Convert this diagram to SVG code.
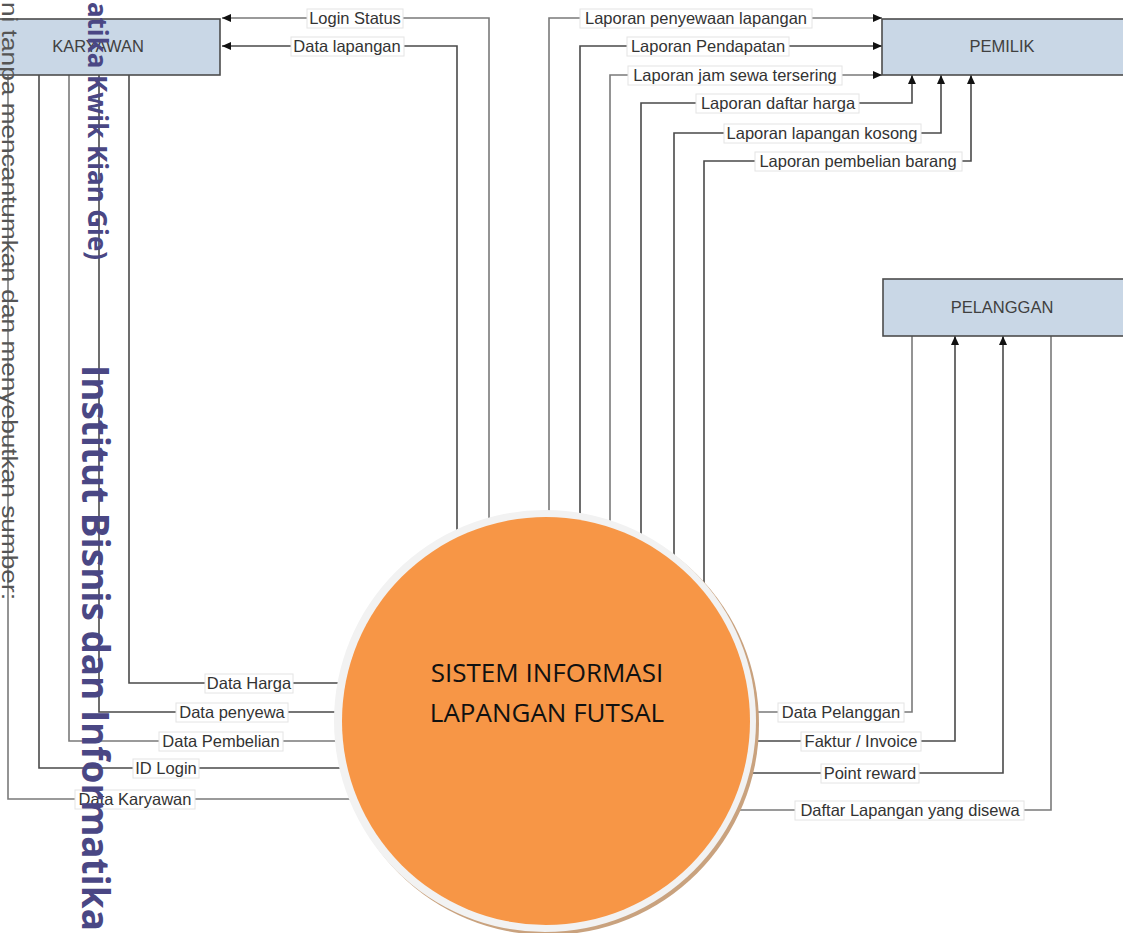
<svg xmlns="http://www.w3.org/2000/svg" width="1123" height="933" viewBox="0 0 1123 933">
<defs>
<marker id="arr" markerWidth="10" markerHeight="8" refX="9" refY="4" orient="auto" markerUnits="userSpaceOnUse">
<path d="M0,0 L9,4 L0,8 z" fill="#111"/>
</marker>
<style>
.box{fill:#c9d7e6;stroke:#4d4d4d;stroke-width:1.6}
.bt{font-family:"Liberation Sans",Arial,sans-serif;font-size:16.5px;fill:#404040;text-anchor:middle}
.ln{fill:none;stroke:#4a4a4a;stroke-width:1.6}
.lg{fill:none;stroke:#7a7a7a;stroke-width:1.6}
.lb{fill:#fff;stroke:#e4e4e4;stroke-width:1}
.lt{font-family:"Liberation Sans",Arial,sans-serif;font-size:16.5px;fill:#333;text-anchor:middle}
.ct{font-family:"Open Sans","Liberation Sans",sans-serif;font-size:26px;fill:#111;text-anchor:middle}
.wm{font-family:"Open Sans","Liberation Sans",sans-serif;font-weight:bold;fill:#4a4784}
.wt{font-family:"Liberation Sans",Arial,sans-serif;fill:#555}
</style>
</defs>
<rect width="1123" height="933" fill="#fff"/>

<g id="connectors">
<polyline class="lg" points="489,600 489,18 222,18" marker-end="url(#arr)"/>
<polyline class="ln" points="457,600 457,46 222,46" marker-end="url(#arr)"/>
<polyline class="lg" points="549,600 549,18 882,18" marker-end="url(#arr)"/>
<polyline class="ln" points="580,600 580,46 882,46" marker-end="url(#arr)"/>
<polyline class="lg" points="610,600 610,75 882,75" marker-end="url(#arr)"/>
<polyline class="ln" points="641,600 641,103 912,103 912,75" marker-end="url(#arr)"/>
<polyline class="ln" points="674,600 674,133 941,133 941,75" marker-end="url(#arr)"/>
<polyline class="ln" points="704,600 704,161 971,161 971,75" marker-end="url(#arr)"/>
<polyline class="ln" points="129,75 129,683 450,683"/>
<polyline class="ln" points="99,75 99,712 450,712"/>
<polyline class="lg" points="69,75 69,741 450,741"/>
<polyline class="ln" points="39,75 39,768 450,768"/>
<polyline class="lg" points="8,75 8,799 450,799"/>
<polyline class="lg" points="912,336 912,712 650,712"/>
<polyline class="ln" points="650,741 955,741 955,336" marker-end="url(#arr)"/>
<polyline class="ln" points="650,773 1003,773 1003,336" marker-end="url(#arr)"/>
<polyline class="lg" points="1051,336 1051,810 650,810"/>

<rect class="lb" x="307" y="9" width="96" height="19"/><text class="lt" x="355" y="24">Login Status</text>
<rect class="lb" x="291" y="37" width="113" height="19"/><text class="lt" x="347" y="52">Data lapangan</text>
<rect class="lb" x="580" y="9" width="232" height="19"/><text class="lt" x="696" y="24">Laporan penyewaan lapangan</text>
<rect class="lb" x="627" y="37" width="162" height="19"/><text class="lt" x="708" y="52">Laporan Pendapatan</text>
<rect class="lb" x="628" y="66" width="214" height="19"/><text class="lt" x="735" y="81">Laporan jam sewa tersering</text>
<rect class="lb" x="696" y="94" width="163" height="19"/><text class="lt" x="778" y="109">Laporan daftar harga</text>
<rect class="lb" x="724" y="124" width="197" height="19"/><text class="lt" x="822" y="139">Laporan lapangan kosong</text>
<rect class="lb" x="755" y="152" width="207" height="19"/><text class="lt" x="858" y="167">Laporan pembelian barang</text>
<rect class="lb" x="205" y="674" width="88" height="19"/><text class="lt" x="249" y="689">Data Harga</text>
<rect class="lb" x="176" y="703" width="112" height="19"/><text class="lt" x="232" y="718">Data penyewa</text>
<rect class="lb" x="159" y="732" width="124" height="19"/><text class="lt" x="221" y="747">Data Pembelian</text>
<rect class="lb" x="133" y="759" width="66" height="19"/><text class="lt" x="166" y="774">ID Login</text>
<rect class="lb" x="75" y="790" width="120" height="19"/><text class="lt" x="135" y="805">Data Karyawan</text>
<rect class="lb" x="778" y="703" width="126" height="19"/><text class="lt" x="841" y="718">Data Pelanggan</text>
<rect class="lb" x="801" y="732" width="120" height="19"/><text class="lt" x="861" y="747">Faktur / Invoice</text>
<rect class="lb" x="821" y="764" width="98" height="19"/><text class="lt" x="870" y="779">Point reward</text>
<rect class="lb" x="795" y="801" width="229" height="19"/><text class="lt" x="910" y="816">Daftar Lapangan yang disewa</text>
</g>

<g id="karyawan">
<rect class="box" x="-24" y="19" width="244" height="56"/>
<text class="bt" x="98" y="52">KARYAWAN</text>
</g>
<g id="pemilik">
<rect class="box" x="882" y="19" width="245" height="56"/>
<text class="bt" x="1002" y="52">PEMILIK</text>
</g>
<g id="pelanggan">
<rect class="box" x="883" y="279" width="245" height="57"/>
<text class="bt" x="1002" y="313">PELANGGAN</text>
</g>

<g id="process">
<circle cx="548" cy="724" r="211" fill="#c9a27e"/>
<circle cx="545" cy="721" r="211" fill="#f2f2f2"/>
<circle cx="546" cy="721" r="204" fill="#f79646"/>
<text class="ct" x="547" y="682">SISTEM INFORMASI</text>
<text class="ct" x="547" y="722">LAPANGAN FUTSAL</text>
</g>

<g id="watermark">
<text class="wt" font-size="22" transform="translate(2,600) rotate(90)" text-anchor="end" textLength="598" lengthAdjust="spacingAndGlyphs">ni tanpa mencantumkan dan menyebutkan sumber:</text>
<text class="wm" font-size="26" transform="translate(88,260) rotate(90)" text-anchor="end" textLength="258" lengthAdjust="spacingAndGlyphs">atika Kwik Kian Gie)</text>
<text class="wm" font-size="38" transform="translate(82,365) rotate(90)" textLength="566" lengthAdjust="spacingAndGlyphs">Institut Bisnis dan Informatika</text>
</g>
</svg>
